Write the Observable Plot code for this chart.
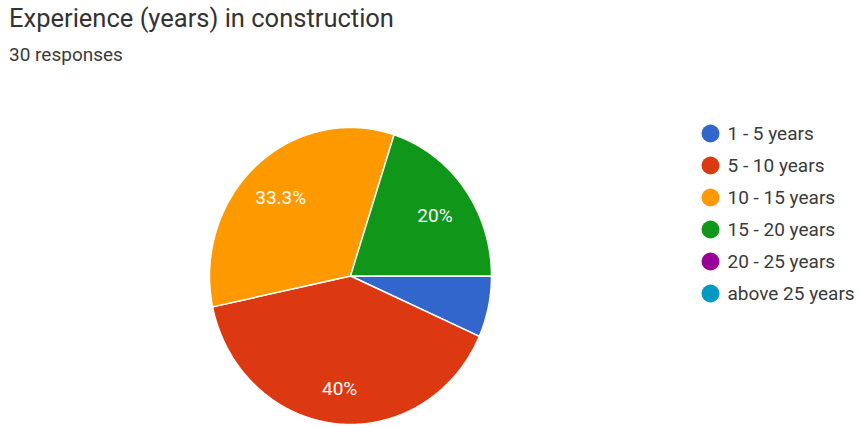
<!DOCTYPE html>
<html>
<head>
<meta charset="utf-8">
<script src="https://cdn.jsdelivr.net/npm/d3@7"></script>
<script src="https://cdn.jsdelivr.net/npm/@observablehq/plot@0.6"></script>
<style>
  html, body { margin: 0; padding: 0; background: #fff; }
  #wrap { position: relative; width: 859px; height: 428px; overflow: hidden; font-family: Roboto, Arial, sans-serif; }
  #title { position: absolute; left: 9px; top: 3px; font-size: 25.5px; color: #333; white-space: nowrap; }
  #subtitle { position: absolute; left: 9px; top: 43px; font-size: 19px; color: #3a3a3a; white-space: nowrap; }
  .layer { position: absolute; left: 0; top: 0; }
</style>
</head>
<body>
<div id="wrap">
  <div id="title"></div>
  <div id="subtitle"></div>
  <div id="pie" class="layer"></div>
  <div id="legend" class="layer"></div>
</div>
<script>
const titleText = "Experience (years) in construction";
const subtitleText = "30 responses";
const categories = ["1 - 5 years", "5 - 10 years", "10 - 15 years", "15 - 20 years", "20 - 25 years", "above 25 years"];
const counts = [2, 12, 10, 6, 0, 0];
const colors = ["#3366cc", "#dc3912", "#ff9900", "#109618", "#990099", "#0099c6"];

document.getElementById("title").textContent = titleText;
document.getElementById("subtitle").textContent = subtitleText;

const total = d3.sum(counts);
// slices start at 3 o'clock and run clockwise
const pts = [];
const labels = [];
let acc = 0;
categories.forEach((cat, i) => {
  const v = counts[i];
  if (!v) return;
  const a0 = acc / total * 2 * Math.PI;
  const a1 = (acc + v) / total * 2 * Math.PI;
  acc += v;
  pts.push({cat, x: 0, y: 0});
  const n = Math.max(2, Math.ceil((a1 - a0) / (Math.PI / 180)));
  for (let k = 0; k <= n; k++) {
    const a = a0 + (a1 - a0) * k / n;
    pts.push({cat, x: Math.cos(a), y: -Math.sin(a)});
  }
  const share = v / total;
  if (share >= 0.1) {
    const am = (a0 + a1) / 2;
    labels.push({x: 0.74 * Math.cos(am), y: -0.74 * Math.sin(am), text: (Math.round(share * 1000) / 10) + "%"});
  }
});

const color = {domain: categories, range: colors};

const pie = Plot.plot({
  width: 859,
  height: 428,
  margin: 0,
  x: {domain: [-1, 1], range: [209, 491], axis: null},
  y: {domain: [-1, 1], range: [424, 127], axis: null},
  color,
  style: {fontFamily: "Roboto, Arial, sans-serif", background: "transparent"},
  marks: [
    Plot.line(pts, {x: "x", y: "y", z: "cat", fill: "cat", stroke: "white", strokeWidth: 1.5, curve: "linear-closed"}),
    Plot.text(labels, {x: "x", y: "y", text: "text", fill: "white", fontSize: 19, dy: 4})
  ]
});
document.getElementById("pie").appendChild(pie);

const legend = Plot.plot({
  width: 859,
  height: 428,
  margin: 0,
  x: {domain: [0, 1], range: [710, 850], axis: null},
  y: {type: "point", domain: categories, range: [131, 294], padding: 0, axis: null},
  color,
  style: {fontFamily: "Roboto, Arial, sans-serif", background: "transparent"},
  marks: [
    Plot.dot(categories, {x: () => 0, y: d => d, fill: d => d, r: 9}),
    Plot.text(categories, {x: () => 0, y: d => d, text: d => d, dx: 17, textAnchor: "start", fontSize: 19, fill: "#3a3a3a"})
  ]
});
document.getElementById("legend").appendChild(legend);
</script>
</body>
</html>
